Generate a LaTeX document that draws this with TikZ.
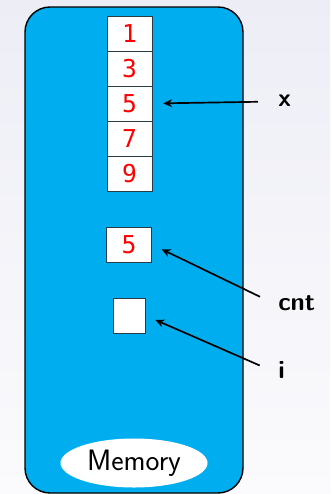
\documentclass[tikz,border=0pt]{standalone}
\usepackage{fontspec}
\setmonofont{DejaVu Sans Mono}
\usetikzlibrary{arrows.meta,shapes.geometric}
\definecolor{memblue}{RGB}{0,174,239}
\definecolor{cellline}{RGB}{40,60,70}
\definecolor{bgtop}{RGB}{237,237,246}
\definecolor{bgbottom}{RGB}{251,251,253}
\begin{document}
\begin{tikzpicture}[x=0.025cm, y=-0.025cm,
cell/.style={draw=cellline, fill=white, minimum width=1.125cm, minimum height=0.875cm,
    inner sep=0pt, text=red, font=\ttfamily\fontsize{17.5}{19}\selectfont},
varname/.style={anchor=base west, inner sep=0pt, text height=1.5ex, text depth=0pt,
    font=\sffamily\bfseries\fontsize{18}{20}\selectfont},
pointer/.style={-{Stealth[length=2.2mm,width=2mm]}, line width=1.2pt, shorten <=5mm, shorten >=2.75mm}]
\fill[top color=bgtop, bottom color=bgbottom] (0,0) rectangle (330,494);
\useasboundingbox (0,0) rectangle (330,494);
\draw[fill=memblue, line width=1pt, rounded corners=0.625cm] (25,7) rectangle (243,493);
\foreach \v [count=\i] in {1,3,5,7,9}
    \node[cell] (x\i) at (129.5,{33.5+35*(\i-1)}) {\v};
\node[cell] (cntcell) at (129,244.5) {5};
\node[cell, minimum width=0.8cm] (icell) at (129,315.5) {};
\node[varname] (xlabel) at (278,106) {x};
\node[varname] (cntlabel) at (278,310) {cnt};
\node[varname] (ilabel) at (278,378) {i};
\draw[pointer] (xlabel.west) -- (x3.east);
\draw[pointer] (cntlabel.west) -- (cntcell.east);
\draw[pointer] (ilabel.west) -- (icell.east);
\node[ellipse, fill=white, minimum width=3.675cm, minimum height=1.225cm, inner sep=0pt,
    font=\sffamily\fontsize{21}{23}\selectfont] (mem) at (134,463) {Memory};
\end{tikzpicture}
\end{document}
